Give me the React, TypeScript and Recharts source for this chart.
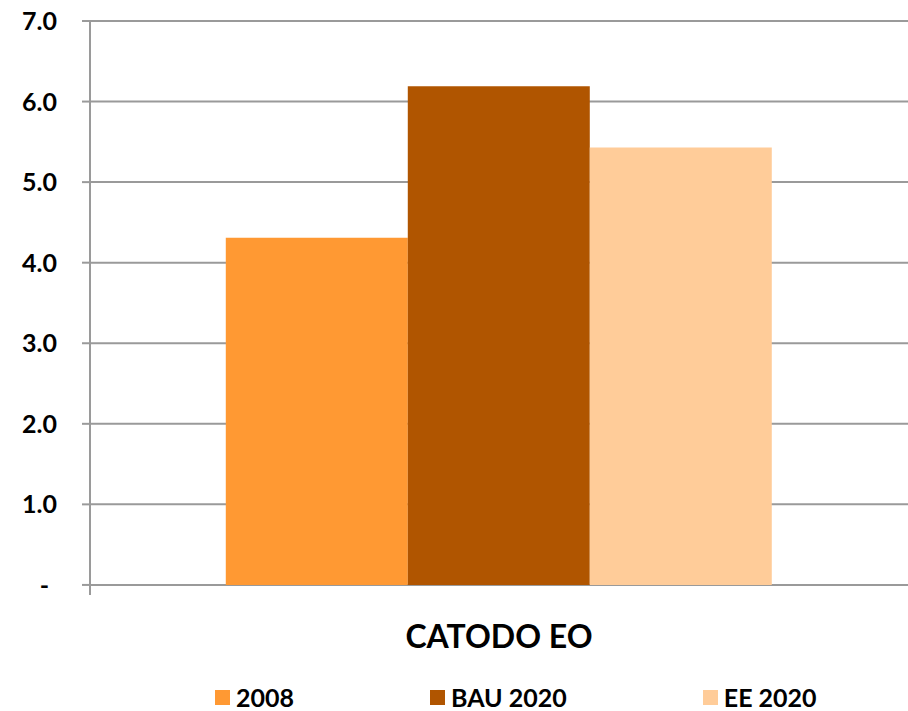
import React from 'react';
import { BarChart, Bar, XAxis, YAxis, CartesianGrid, Legend } from 'recharts';

// Category and series values
const categories = ['CATODO EO'];
const values2008 = [4.31];
const valuesBau2020 = [6.19];
const valuesEe2020 = [5.43];

// Axis ticks
const yTicks = [0, 1, 2, 3, 4, 5, 6, 7];

const seriesDefs = [
  { key: 'y2008', name: '2008', color: '#FF9933' },
  { key: 'bau2020', name: 'BAU 2020', color: '#B05500' },
  { key: 'ee2020', name: 'EE 2020', color: '#FFCC99' },
];

const data = categories.map((category, i) => ({
  category,
  y2008: values2008[i],
  bau2020: valuesBau2020[i],
  ee2020: valuesEe2020[i],
}));

const FONT = 'Lato, "Open Sans", sans-serif';
const GRID = '#9a9a9a';

const YTick = (props: any) => {
  const { x, y, payload } = props;
  const v = payload.value as number;
  const label = v === 0 ? '-' : v.toFixed(1);
  return (
    <text
      x={v === 0 ? x - 8 : x}
      y={y}
      dy={9}
      textAnchor="end"
      fontFamily={FONT}
      fontWeight={700}
      fontSize={25}
      fill="#000"
    >
      {label}
    </text>
  );
};

const XTick = (props: any) => {
  const { x, y, payload } = props;
  return (
    <text
      x={x}
      y={y}
      dy={53}
      textAnchor="middle"
      fontFamily={FONT}
      fontWeight={700}
      fontSize={32}
      fill="#000"
    >
      {payload.value}
    </text>
  );
};

const LegendContent = (props: any) => {
  const payload = (props.payload || []) as any[];
  return (
    <div
      style={{
        display: 'flex',
        alignItems: 'center',
        gap: 136,
        height: 40,
        paddingTop: 12,
        boxSizing: 'border-box',
        fontFamily: FONT,
        fontWeight: 700,
        fontSize: 25,
        color: '#000',
        lineHeight: '28px',
        whiteSpace: 'nowrap',
      }}
    >
      {payload.map((entry) => (
        <div key={entry.value} style={{ display: 'flex', alignItems: 'center' }}>
          <span
            style={{
              display: 'inline-block',
              width: 15,
              height: 15,
              background: entry.color,
              marginRight: 6,
            }}
          />
          <span>{entry.value}</span>
        </div>
      ))}
    </div>
  );
};

export default function App() {
  return (
    <div style={{ position: 'absolute', left: 0, top: 0, width: 908, height: 711, background: '#fff' }}>
      <BarChart
        width={908}
        height={711}
        data={data}
        margin={{ top: 21, right: 0, left: 0, bottom: 0 }}
        barCategoryGap="16.6%"
        barGap={0}
      >
        <CartesianGrid
          horizontal
          vertical={false}
          horizontalValues={yTicks}
          stroke={GRID}
          strokeWidth={2}
        />
        <XAxis
          dataKey="category"
          axisLine={false}
          tickLine={false}
          tickSize={0}
          tickMargin={0}
          height={76}
          tick={<XTick />}
        />
        <YAxis
          width={90}
          domain={[-0.125, 7]}
          ticks={yTicks}
          allowDataOverflow
          axisLine={{ stroke: GRID, strokeWidth: 2 }}
          tickLine={{ stroke: GRID, strokeWidth: 2 }}
          tickSize={8}
          tickMargin={25}
          tick={<YTick />}
        />
        <Legend
          verticalAlign="bottom"
          content={<LegendContent />}
          wrapperStyle={{ left: 215, bottom: 0, width: 'auto', height: 40 }}
        />
        {seriesDefs.map((s) => (
          <Bar key={s.key} dataKey={s.key} name={s.name} fill={s.color} isAnimationActive={false} />
        ))}
      </BarChart>
    </div>
  );
}
